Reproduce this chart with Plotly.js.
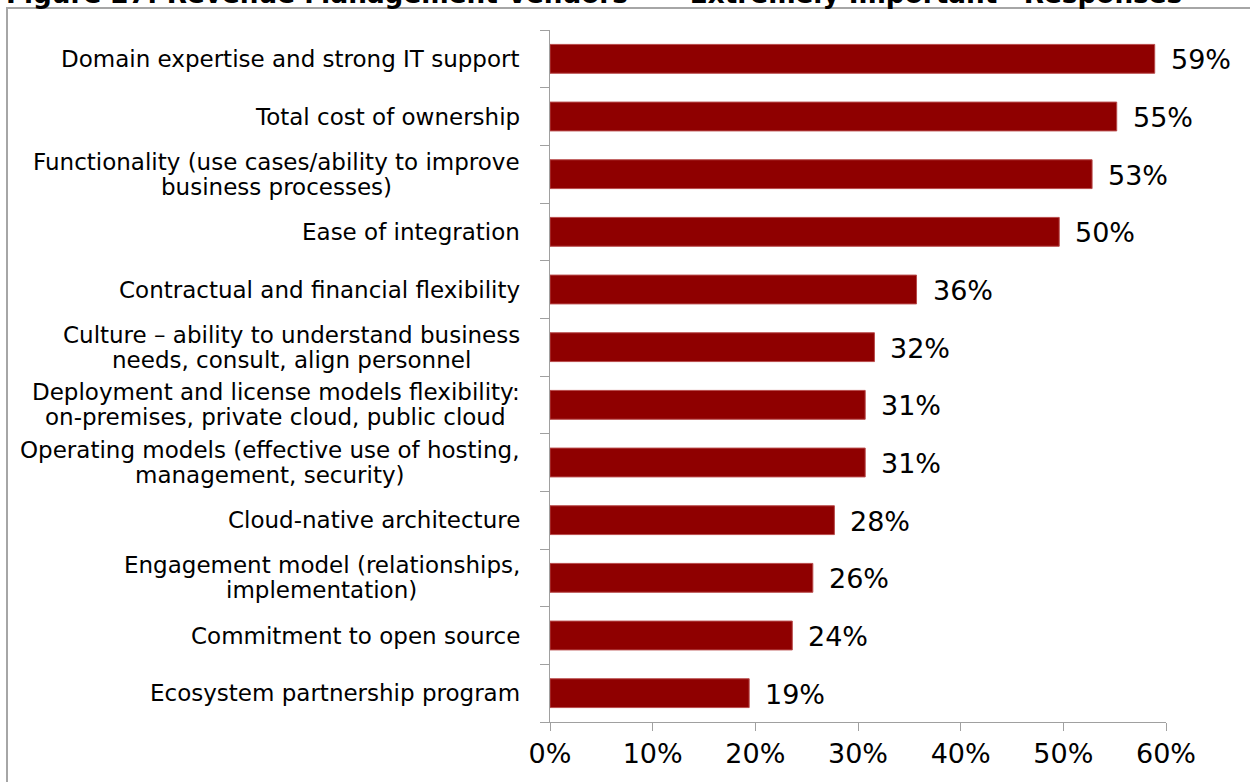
<!DOCTYPE html>
<html>
<head>
<meta charset="utf-8">
<script src="https://cdn.plot.ly/plotly-3.0.1.min.js"></script>
<style>
  html, body { margin: 0; padding: 0; background: #ffffff; }
  #chart { width: 1250px; height: 782px; }
</style>
</head>
<body>
<div id="chart"></div>
<script>
// Categories, top to bottom as shown
const categories = [
  "Domain expertise and strong IT support",
  "Total cost of ownership",
  "Functionality (use cases/ability to improve<br>business processes)",
  "Ease of integration",
  "Contractual and financial flexibility",
  "Culture \u2013 ability to understand business<br>needs, consult, align personnel",
  "Deployment and license models flexibility:<br>on-premises, private cloud, public cloud",
  "Operating models (effective use of hosting,<br>management, security)",
  "Cloud-native architecture",
  "Engagement model (relationships,<br>implementation)",
  "Commitment to open source",
  "Ecosystem partnership program"
];
// Share of "Extremely Important" responses (%)
const values = [58.9, 55.2, 52.8, 49.6, 35.7, 31.6, 30.7, 30.7, 27.7, 25.6, 23.6, 19.4];
// Printed labels
const valueLabels = ["59%", "55%", "53%", "50%", "36%", "32%", "31%", "31%", "28%", "26%", "24%", "19%"];
const xTickVals = [0, 10, 20, 30, 40, 50, 60];
const xTickText = ["0%", "10%", "20%", "30%", "40%", "50%", "60%"];
const titleText = "Figure 27: Revenue Management Vendors \u2014 \u201cExtremely Important\u201d Responses";

const keys = categories.map((c, i) => "c" + i);

const trace = {
  type: "bar",
  orientation: "h",
  y: keys,
  x: values,
  width: 0.5,
  marker: { color: "#8f0000", line: { color: "#b84a4a", width: 1 } },
  hoverinfo: "x+y"
};

const FONT = "DejaVu Sans, Verdana, sans-serif";
const LABEL_SIZE = 23;
const LINE_GAP = 25;
const ctx = document.createElement("canvas").getContext("2d");
ctx.font = LABEL_SIZE + "px 'DejaVu Sans'";

const annotations = [];
keys.forEach((k, i) => {
  // category label: lines centred on each other, right edge near the axis
  const lines = categories[i].split("<br>");
  const widths = lines.map(s => ctx.measureText(s).width);
  const maxW = Math.max(...widths);
  lines.forEach((s, j) => {
    annotations.push({
      xref: "paper", yref: "y", x: 0, y: k,
      xanchor: "right", yanchor: "middle",
      xshift: -28 - (maxW - widths[j]) / 2,
      yshift: ((lines.length - 1) / 2 - j) * LINE_GAP,
      showarrow: false,
      text: s,
      font: { family: FONT, size: LABEL_SIZE, color: "#000000" }
    });
  });
  // value label
  annotations.push({
    xref: "x", yref: "y", x: values[i], y: k,
    xanchor: "left", yanchor: "middle", xshift: 14, yshift: -1,
    showarrow: false,
    text: valueLabels[i],
    font: { family: FONT, size: 27, color: "#000000" }
  });
});
// chart title (cut off at the top edge, as in the source image)
annotations.push({
  xref: "paper", yref: "paper", x: (4 - 550) / 616, y: 1,
  xanchor: "left", yanchor: "middle", yshift: 36,
  showarrow: false,
  text: "<b>" + titleText + "</b>",
  font: { family: FONT, size: 26.3, color: "#000000" }
});

const layout = {
  width: 1250, height: 782,
  paper_bgcolor: "#ffffff", plot_bgcolor: "#ffffff",
  margin: { l: 550, r: 84, t: 30, b: 60 },
  showlegend: false,
  bargap: 0.5,
  xaxis: {
    range: [0, 60],
    tickvals: xTickVals, ticktext: xTickText,
    ticks: "outside", ticklen: 8, tickwidth: 1, tickcolor: "#a0a0a0",
    showline: true, linecolor: "#a0a0a0", linewidth: 1,
    showgrid: false, zeroline: false,
    tickfont: { family: FONT, size: 27, color: "#000000" },
    fixedrange: true
  },
  yaxis: {
    type: "category",
    categoryorder: "array", categoryarray: keys.slice().reverse(),
    autorange: false, range: [-0.5, keys.length - 0.5],
    showticklabels: false,
    ticks: "outside", tickson: "boundaries", ticklen: 9, tickwidth: 1, tickcolor: "#a0a0a0",
    showline: true, linecolor: "#a0a0a0", linewidth: 1,
    showgrid: false, zeroline: false,
    fixedrange: true
  },
  annotations: annotations,
  shapes: [{
    type: "rect", xref: "paper", yref: "paper",
    x0: (7 - 550) / 616, x1: (1260 - 550) / 616,
    y0: -0.2, y1: (722 - 8) / 692,
    line: { color: "#a6a6a6", width: 2 }, fillcolor: "rgba(0,0,0,0)", layer: "below"
  }]
};

Plotly.newPlot("chart", [trace], layout, { displayModeBar: false, staticPlot: true });
</script>
</body>
</html>
